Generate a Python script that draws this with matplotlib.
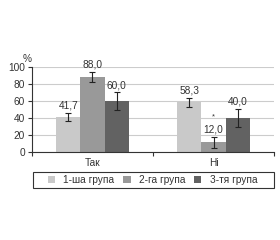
import matplotlib
matplotlib.use("Agg")
import matplotlib.pyplot as plt
from matplotlib.patches import Rectangle
import numpy as np

categories = ["Так", "Ні"]
groups = ["1-ша група", "2-га група", "3-тя група"]
values = [[41.7, 58.3], [88.0, 12.0], [60.0, 40.0]]
errors = [[4.7, 5.2], [6.2, 6.4], [10.0, 10.7]]
labels = [["41,7", "58,3"], ["88,0", "12,0"], ["60,0", "40,0"]]
colors = ["#c9c9c9", "#999999", "#626262"]
yticks = [0, 20, 40, 60, 80, 100]

FS = 7.3
TC = '#333333'
plt.rcParams['font.family'] = ['Liberation Sans', 'DejaVu Sans']
fig = plt.figure(figsize=(2.8, 2.4), dpi=100)
ax = fig.add_axes([0.114, 0.365, 0.865, 0.357])

x = np.arange(len(categories))
w = 0.2
for i, g in enumerate(groups):
    xs = x + (i - 1) * w
    ax.bar(xs, values[i], w, color=colors[i], label=g, zorder=2)
    ax.errorbar(xs, values[i], yerr=errors[i], fmt='none', ecolor='#222222',
                elinewidth=0.8, capsize=2.5, capthick=0.8, zorder=3)
    for j in range(len(categories)):
        ax.annotate(labels[i][j], (xs[j], values[i][j] + errors[i][j]),
                    xytext=(0, 1.5), textcoords='offset points',
                    ha='center', va='bottom', fontsize=FS, color=TC)
# asterisk
ax.annotate("*", (x[1], values[1][1] + errors[1][1]), xytext=(0, 11.5),
            textcoords='offset points', ha='center', va='bottom', fontsize=5.5, color=TC)

ax.set_xlim(-0.5, 1.5)
ax.set_ylim(0, 100)
ax.set_yticks(yticks)
ax.set_yticklabels([str(t) for t in yticks], fontsize=FS, color=TC)
ax.set_xticks(x)
ax.set_xticklabels(categories, fontsize=FS, color=TC)
ax.tick_params(axis='x', length=0, pad=4)
ax.set_xticks([-0.5, 0.5, 1.5], minor=True)
ax.tick_params(axis='x', which='minor', length=3, width=0.8, color=TC)
ax.tick_params(axis='y', length=3, width=0.8, color=TC, pad=2)
ax.yaxis.grid(True, color='#cccccc', linewidth=0.8, zorder=0)
ax.set_axisbelow(True)
for s in ['top', 'right']:
    ax.spines[s].set_visible(False)
for s in ['left', 'bottom']:
    ax.spines[s].set_color(TC)
    ax.spines[s].set_linewidth(0.8)

fig.text(0.112, 0.735, "%", fontsize=FS, color=TC, ha='right', va='bottom')

# legend box
fig.add_artist(Rectangle((0.118, 0.218), 0.861, 0.066, transform=fig.transFigure,
                         fill=False, edgecolor=TC, linewidth=0.8))
leg = fig.legend(loc='center', bbox_to_anchor=(0.545, 0.251),
                 ncol=3, fontsize=FS, frameon=False,
                 handlelength=0.7, handleheight=0.7, handletextpad=0.8,
                 columnspacing=0.9, borderaxespad=0, borderpad=0)
for t in leg.get_texts():
    t.set_color(TC)

fig.savefig("out.png", dpi=100)
